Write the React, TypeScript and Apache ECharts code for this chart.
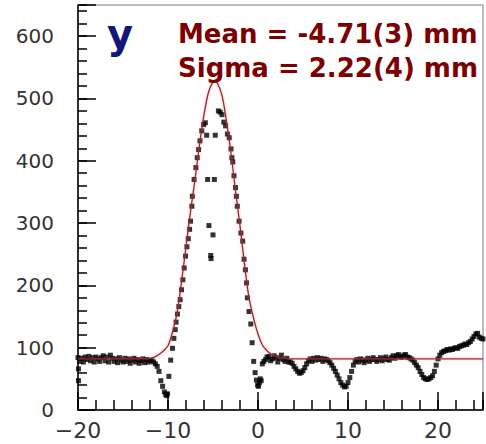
import React, { useEffect, useRef } from 'react';
import * as echarts from 'echarts';

const X_MIN = -20;
const X_MAX = 25;
const Y_MIN = 0;
const Y_MAX = 650;

const TITLE = 'y';
const MEAN_LABEL = 'Mean = -4.71(3) mm';
const SIGMA_LABEL = 'Sigma = 2.22(4) mm';

// measured points, left flat part
const leftBaseline: [number, number][] = [
  [-20, 84], [-19.95, 66], [-19.95, 47], [-19.8, 78], [-19.6, 83], [-19.4, 77], [-19.2, 85],
  [-19.0, 81], [-18.8, 86], [-18.6, 79], [-18.4, 84], [-18.2, 77], [-18.0, 85], [-17.8, 82],
  [-17.6, 78], [-17.4, 84], [-17.2, 87], [-17.0, 79], [-16.8, 85], [-16.6, 77], [-16.4, 88],
  [-16.2, 83], [-16.0, 78], [-15.8, 82], [-15.6, 76], [-15.4, 84], [-15.2, 80], [-15.0, 77],
  [-14.8, 83], [-14.6, 78], [-14.4, 82], [-14.2, 75], [-14.0, 80], [-13.8, 83], [-13.6, 77],
  [-13.4, 81], [-13.2, 75], [-13.0, 79], [-12.8, 82], [-12.6, 76], [-12.4, 81], [-12.2, 77],
  [-12.0, 80], [-11.8, 79], [-11.6, 77], [-11.4, 74],
];

// measured points, left dip and rising edge
const leftEdge: [number, number][] = [
  [-11.2, 70], [-11.0, 62], [-10.8, 47], [-10.6, 38], [-10.4, 29], [-10.25, 25], [-10.15, 23],
  [-10.05, 26], [-9.9, 54], [-9.7, 80], [-9.5, 99], [-9.35, 115], [-9.2, 129], [-9.1, 141],
  [-8.95, 154], [-8.8, 166], [-8.65, 177], [-8.5, 193], [-8.35, 209], [-8.2, 228], [-8.05, 247],
  [-7.9, 262], [-7.75, 275], [-7.6, 290], [-7.5, 303], [-7.35, 327], [-7.3, 343], [-7.1, 370],
  [-6.9, 389], [-6.75, 405], [-6.6, 418], [-6.45, 432], [-6.25, 448], [-6.05, 458], [-5.85, 461],
];

// measured points inside the peak
const peakInner: [number, number][] = [
  [-5.7, 441], [-4.75, 441], [-5.6, 370], [-4.85, 370], [-5.45, 296], [-5.0, 281],
  [-5.25, 248], [-5.22, 243],
];

// measured points, falling edge and dip near zero
const rightEdge: [number, number][] = [
  [-4.4, 480], [-4.2, 478], [-4.0, 474], [-3.8, 462], [-3.6, 456], [-3.4, 443], [-3.2, 437],
  [-3.0, 419], [-2.9, 405], [-2.8, 398], [-2.67, 376], [-2.5, 357], [-2.4, 343], [-2.3, 327],
  [-2.1, 303], [-1.9, 284], [-1.7, 271], [-1.55, 242], [-1.4, 225], [-1.27, 204], [-1.18, 180],
  [-1.0, 158], [-0.8, 138], [-0.65, 108], [-0.48, 78], [-0.32, 60], [-0.18, 48], [-0.05, 40],
  [0.05, 38], [0.15, 44], [0.25, 50], [0.35, 47], [0.48, 74], [0.65, 78], [0.85, 81], [1.0, 85],
];

// measured points, right flat part with dips
const rightBaseline: [number, number][] = [
  [1.2, 86], [1.4, 79], [1.6, 82], [1.8, 87], [2.0, 84], [2.2, 77], [2.4, 83], [2.6, 88],
  [2.8, 81], [3.0, 78], [3.2, 83], [3.4, 77], [3.6, 77], [3.8, 75], [4.0, 70], [4.2, 66],
  [4.4, 62], [4.6, 59], [4.8, 60], [5.0, 63], [5.2, 68], [5.4, 74], [5.6, 79], [5.8, 82],
  [6.0, 78], [6.2, 83], [6.4, 80], [6.6, 84], [6.8, 81], [7.0, 83], [7.2, 78], [7.4, 82],
  [7.6, 81], [7.8, 79], [8.0, 76], [8.2, 72], [8.4, 67], [8.6, 62], [8.8, 56], [9.0, 50],
  [9.2, 44], [9.4, 40], [9.6, 37], [9.8, 38], [10.0, 44], [10.2, 52], [10.4, 62], [10.6, 72],
  [10.8, 78], [11.0, 81], [11.2, 77], [11.4, 82], [11.6, 80], [11.8, 76], [12.0, 80], [12.2, 83],
  [12.4, 78], [12.6, 81], [12.8, 84], [13.0, 81], [13.2, 78], [13.4, 81], [13.6, 84], [13.8, 79],
  [14.0, 82], [14.2, 85], [14.4, 81], [14.6, 80], [14.8, 84], [15.0, 87], [15.2, 83], [15.4, 87],
  [15.6, 89], [15.8, 85], [16.0, 85], [16.2, 88], [16.4, 89], [16.6, 85], [16.8, 84], [17.0, 82],
  [17.2, 80], [17.4, 76], [17.6, 72], [17.8, 68], [18.0, 62], [18.2, 57], [18.4, 52], [18.6, 50],
  [18.8, 49], [19.0, 50], [19.2, 52], [19.4, 55], [19.6, 62], [19.8, 72], [20.0, 82], [20.2, 88],
  [20.4, 92], [20.6, 94], [20.8, 95], [21.0, 97], [21.2, 96], [21.4, 98], [21.6, 97], [21.8, 99],
  [22.0, 100], [22.2, 99], [22.4, 102], [22.6, 103], [22.8, 104], [23.0, 106], [23.2, 105],
  [23.4, 108], [23.6, 110], [23.8, 114], [24.0, 118], [24.2, 122], [24.4, 123], [24.6, 117],
  [24.8, 115], [25.0, 114],
];

// fitted curve
const fitCurve: [number, number][] = [
  [-20, 82], [-14, 82], [-13, 82.5], [-12, 83], [-11.5, 85], [-11, 89], [-10.5, 95], [-10, 103],
  [-9.5, 125], [-9, 155], [-8.5, 205], [-8, 262], [-7.5, 318], [-7, 370], [-6.5, 426],
  [-6, 474], [-5.5, 510], [-5, 527], [-4.85, 528], [-4.5, 524], [-4, 505], [-3.5, 463],
  [-3, 412], [-2.5, 352], [-2, 296], [-1.5, 234], [-1, 180], [-0.5, 148], [0, 122], [0.5, 104],
  [1, 95], [1.5, 89], [2, 86], [3, 83], [4, 82], [25, 82],
];

const points = [...leftBaseline, ...leftEdge, ...peakInner, ...rightEdge, ...rightBaseline];

const AXIS_FONT = 'DejaVu Sans';
const STAT_COLOR = '#7d0000';

export default function App() {
  const ref = useRef<HTMLDivElement>(null);
  useEffect(() => {
    if (!ref.current) return;
    const chart = echarts.init(ref.current, undefined, { renderer: 'svg' });
    const lineStyle = { color: '#000', width: 1.5 };
    const fmtX = (v: number) => {
      if (Math.round(v) % 10 !== 0) return '';
      return v < 0 ? '\u2212' + Math.abs(v) : String(v);
    };
    const fmtY = (v: number) => (Math.round(v) % 100 === 0 ? String(v) : '');
    chart.setOption({
      animation: false,
      backgroundColor: '#fff',
      grid: {
        left: 78, right: 3, top: 5, bottom: 34,
        show: true, borderColor: '#777', borderWidth: 1, backgroundColor: '#fff',
      },
      xAxis: [
        {
          type: 'value', min: X_MIN, max: X_MAX, interval: 2, position: 'bottom',
          axisLine: { show: true, onZero: false, lineStyle },
          axisTick: { show: true, inside: true, length: 10, lineStyle },
          splitLine: { show: false },
          axisLabel: {
            formatter: fmtX, fontSize: 22, color: '#333', fontFamily: AXIS_FONT, margin: 9,
          },
        },
        {
          type: 'value', min: X_MIN, max: X_MAX, interval: 10, position: 'bottom',
          axisLine: { show: false, onZero: false },
          axisTick: { show: true, inside: true, length: 18, lineStyle },
          splitLine: { show: false },
          axisLabel: { show: false },
        },
      ],
      yAxis: [
        {
          type: 'value', min: Y_MIN, max: Y_MAX, interval: 20, position: 'left',
          axisLine: { show: true, onZero: false, lineStyle },
          axisTick: { show: true, inside: true, length: 9, lineStyle },
          splitLine: { show: false },
          axisLabel: {
            formatter: fmtY, fontSize: 20, color: '#333', fontFamily: AXIS_FONT, margin: 24,
          },
        },
        {
          type: 'value', min: Y_MIN, max: Y_MAX, interval: 100, position: 'left',
          axisLine: { show: false, onZero: false },
          axisTick: { show: true, inside: true, length: 18, lineStyle },
          splitLine: { show: false },
          axisLabel: { show: false },
        },
      ],
      series: [
        {
          type: 'scatter', data: points, symbol: 'rect', symbolSize: 5,
          itemStyle: { color: '#000' }, xAxisIndex: 0, yAxisIndex: 0, z: 2,
        },
        {
          type: 'line', data: fitCurve, smooth: 0.3, showSymbol: false, xAxisIndex: 0, yAxisIndex: 0,
          lineStyle: { color: '#982828', width: 1.3, shadowBlur: 3, shadowColor: 'rgba(220,90,90,0.5)' },
          z: 3,
        },
      ],
      graphic: [
        {
          type: 'text', left: 107, top: 14, z: 10,
          style: { text: TITLE, fill: '#15157a', font: 'bold 40px "DejaVu Sans"' },
        },
        {
          type: 'text', left: 178, top: 21, z: 10,
          style: { text: MEAN_LABEL, fill: STAT_COLOR, font: 'bold 26px "DejaVu Sans"' },
        },
        {
          type: 'text', left: 178, top: 55, z: 10,
          style: { text: SIGMA_LABEL, fill: STAT_COLOR, font: 'bold 26px "DejaVu Sans"' },
        },
      ],
    });
    return () => chart.dispose();
  }, []);
  return (
    <div
      ref={ref}
      style={{ position: 'fixed', left: 0, top: 0, width: 486, height: 444, background: '#fff' }}
    />
  );
}
